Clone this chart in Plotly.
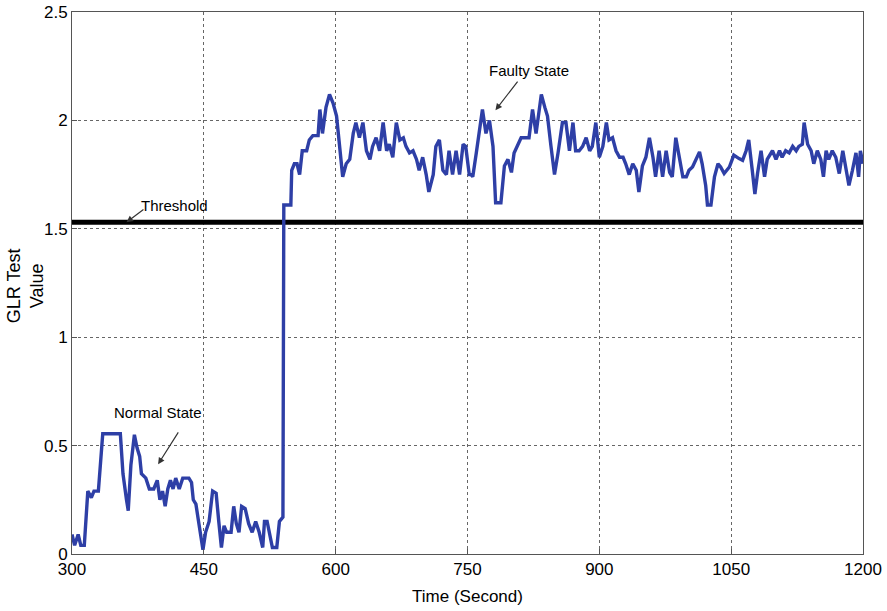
import plotly.graph_objects as go

time_s = [300, 303, 307, 310, 314, 316, 318, 322, 325, 330, 333, 335, 355, 358, 362, 364, 367, 371, 374, 377, 379,
          384, 388, 393, 397, 400, 403, 406, 409, 412, 415, 418, 422, 426, 433, 436, 438, 441, 444, 449, 452, 456,
          460, 464, 467, 470, 473, 476, 481, 484, 487, 490, 493, 497, 501, 505, 509, 513, 517, 519, 522, 525, 528,
          533, 536, 540, 541,
          542, 549, 550, 553, 556, 559, 562, 567, 570, 574, 580, 582, 585, 589, 593, 597, 601, 604, 608, 612, 616,
          620, 623, 627, 631, 635, 639, 642, 646, 650, 654, 658, 661, 665, 669, 673, 677, 680, 684, 688, 692, 695,
          699, 703, 706, 711, 714, 718, 722, 726, 729, 733, 737, 741, 745, 748, 752,
          754, 756, 760, 764, 767, 771, 775, 779, 782, 788, 792, 796, 800, 803, 807, 811, 820, 824, 828, 834, 838,
          841, 845, 849, 853, 858, 862, 866, 870, 873, 877, 881, 885, 889, 892, 896, 900, 904, 908, 911, 915, 919,
          923, 927, 930, 934, 938, 942, 945, 949, 953, 957, 961, 964, 968, 972, 976, 980,
          983, 987, 991, 995, 999, 1002, 1006, 1010, 1014, 1017, 1021, 1023, 1027, 1031, 1035, 1038, 1042, 1048,
          1053, 1059, 1063, 1067, 1070, 1074, 1077, 1080, 1084, 1088, 1091, 1097, 1101, 1105, 1108, 1112, 1116,
          1120, 1124, 1127, 1131, 1133, 1137, 1141, 1144, 1148, 1152, 1155, 1158, 1161, 1165, 1169, 1173, 1177,
          1180, 1184, 1188, 1192, 1195, 1197, 1200]

glr_value = [0.09, 0.04, 0.09, 0.04, 0.04, 0.20, 0.29, 0.26, 0.29, 0.29, 0.45, 0.555, 0.555, 0.37, 0.25, 0.20,
             0.41, 0.55, 0.49, 0.45, 0.37, 0.35, 0.30, 0.30, 0.34, 0.25, 0.29, 0.22, 0.30, 0.34, 0.30, 0.35, 0.30,
             0.35, 0.35, 0.33, 0.25, 0.23, 0.15, 0.02, 0.10, 0.15, 0.29, 0.28, 0.15, 0.03, 0.13, 0.10, 0.10, 0.22,
             0.14, 0.10, 0.22, 0.21, 0.14, 0.10, 0.15, 0.10, 0.03, 0.15, 0.15, 0.08, 0.03, 0.03, 0.15, 0.17, 1.61,
             1.61, 1.61, 1.77, 1.80, 1.80, 1.75, 1.86, 1.86, 1.91, 1.93, 1.93, 2.05, 1.94, 2.06, 2.12, 2.08, 2.02,
             1.89, 1.74, 1.80, 1.82, 1.94, 1.99, 1.92, 1.99, 1.86, 1.82, 1.88, 1.92, 1.86, 1.99, 1.86, 1.89, 1.83,
             1.99, 1.91, 1.92, 1.88, 1.85, 1.86, 1.82, 1.77, 1.83, 1.75, 1.67, 1.75, 1.88, 1.91, 1.77, 1.75, 1.86,
             1.75, 1.86, 1.75, 1.89, 1.88, 1.75,
             1.75, 1.74, 1.85, 1.97, 2.05, 1.94, 2.00, 1.88, 1.62, 1.62, 1.79, 1.82, 1.76, 1.85, 1.89, 1.92, 1.92,
             2.05, 1.94, 2.12, 2.06, 2.02, 1.88, 1.75, 1.85, 1.99, 1.99, 1.86, 1.99, 1.86, 1.86, 1.88, 1.92, 1.86,
             1.88, 1.99, 1.83, 1.88, 1.99, 1.91, 1.92, 1.86, 1.83, 1.83, 1.80, 1.75, 1.80, 1.77, 1.67, 1.79, 1.83,
             1.92, 1.83, 1.74, 1.86, 1.74, 1.86, 1.76,
             1.74, 1.92, 1.83, 1.74, 1.74, 1.77, 1.785, 1.82, 1.855, 1.80, 1.70, 1.61, 1.61, 1.74, 1.80, 1.785,
             1.755, 1.785, 1.84, 1.824, 1.816, 1.86, 1.91, 1.77, 1.66, 1.755, 1.86, 1.74, 1.82, 1.86, 1.82, 1.86,
             1.83, 1.86, 1.85, 1.88, 1.86, 1.88, 1.89, 1.99, 1.89, 1.86, 1.80, 1.86, 1.82, 1.74, 1.86, 1.82, 1.86,
             1.83, 1.755, 1.86, 1.80, 1.70, 1.77, 1.85, 1.74, 1.86, 1.80]

threshold = 1.53
x_ticks = [300, 450, 600, 750, 900, 1050, 1200]
y_ticks = [0, 0.5, 1, 1.5, 2, 2.5]
y_tick_labels = ["0", "0.5", "1", "1.5", "2", "2.5"]

font = "Liberation Sans, Arial, sans-serif"
fig = go.Figure()
fig.add_trace(go.Scatter(x=[300, 1200], y=[threshold, threshold], mode="lines",
                         line=dict(color="black", width=5), hoverinfo="skip"))
fig.add_trace(go.Scatter(x=time_s, y=glr_value, mode="lines",
                         line=dict(color="#2E3FA6", width=3.4)))

annots = [
    dict(text="Threshold", x=362, y=1.53, ax=383, ay=1.594, tx=417, ty=1.608),
    dict(text="Normal State", x=398, y=0.414, ax=422, ay=0.568, tx=397.7, ty=0.653),
    dict(text="Faulty State", x=781.8, y=2.047, ax=808.3, ay=2.186, tx=820.5, ty=2.232),
]
for a in annots:
    fig.add_annotation(x=a["x"], y=a["y"], ax=a["ax"], ay=a["ay"], axref="x", ayref="y",
                       text="", showarrow=True, arrowhead=2, arrowsize=1.1, arrowwidth=1.2,
                       arrowcolor="#333")
    fig.add_annotation(x=a["tx"], y=a["ty"], text=a["text"], showarrow=False,
                       font=dict(size=15, color="black", family=font))

# y-axis title as a rotated annotation for exact placement
fig.add_annotation(xref="paper", yref="paper", x=-0.0594, y=0.494, text="GLR Test<br>Value",
                   textangle=-90, showarrow=False, xanchor="center", yanchor="middle",
                   font=dict(size=18, color="black", family=font))

axis_common = dict(showline=True, linecolor="#555", linewidth=1, mirror=True,
                   showgrid=True, gridcolor="#666", griddash="dot", gridwidth=1,
                   ticks="inside", ticklen=5, tickcolor="#555", zeroline=False, automargin=False,
                   ticklabeloverflow="allow",
                   tickfont=dict(size=17, color="black", family=font))
fig.update_xaxes(range=[300, 1200], tickvals=x_ticks,
                 title=dict(text="Time (Second)", font=dict(size=17, color="black", family=font), standoff=11),
                 **axis_common)
fig.update_yaxes(range=[0, 2.5], tickvals=y_ticks, ticktext=y_tick_labels, **axis_common)
fig.update_layout(width=887, height=611, margin=dict(l=72, r=24, t=12, b=57),
                  plot_bgcolor="white", paper_bgcolor="white", showlegend=False)
fig.write_html("out.html", config={"displayModeBar": False},
               post_script="document.body.style.margin='0';")
